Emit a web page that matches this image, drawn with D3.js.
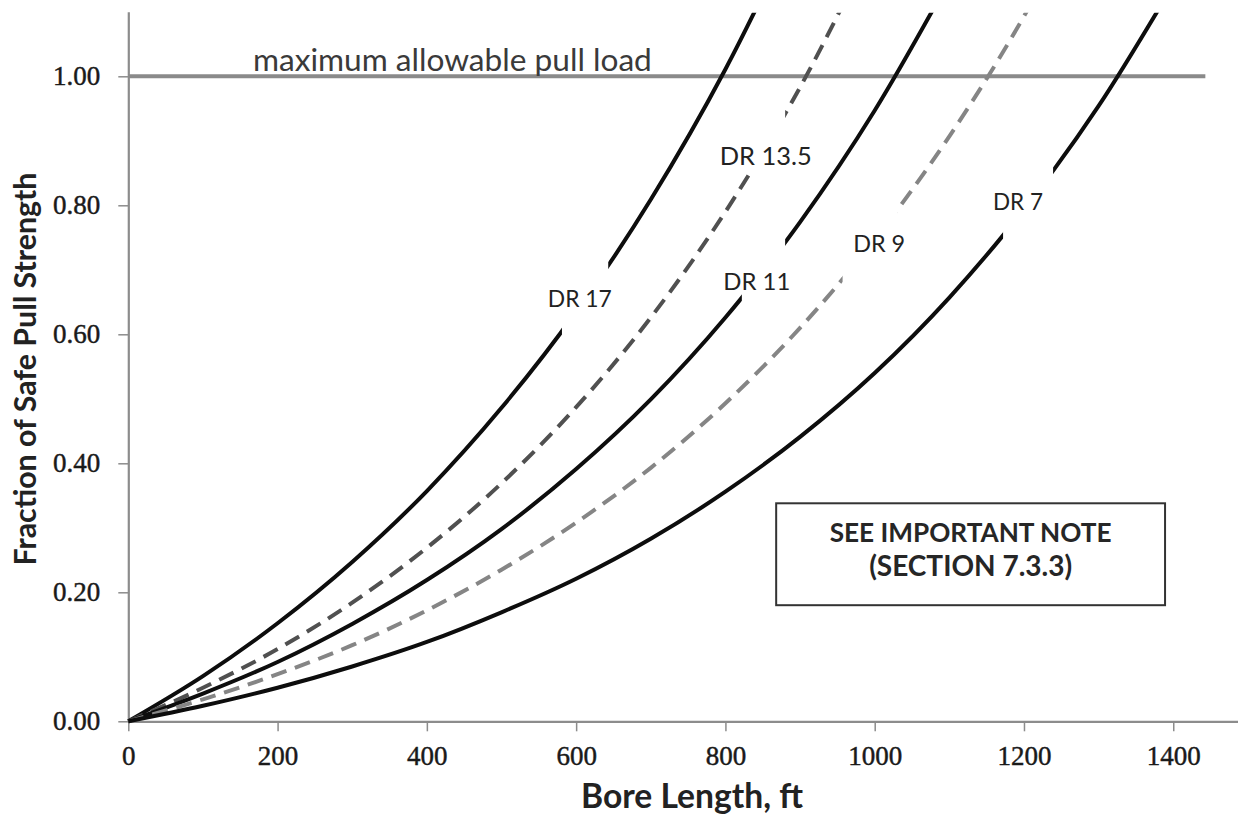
<!DOCTYPE html>
<html>
<head>
<meta charset="utf-8">
<script src="https://cdn.jsdelivr.net/npm/d3@7"></script>
<style>
  html, body { margin: 0; padding: 0; background: #fff; }
  svg { display: block; }
</style>
</head>
<body>
<svg id="chart" width="1238" height="818"></svg>
<script>
// ---------------- data ----------------
const boreLength = [0, 100, 200, 300, 400, 500, 600, 700, 800, 900, 1000, 1100, 1200, 1300, 1400];
const dr17  = [0, 0.070, 0.152, 0.247, 0.357, 0.486, 0.635, 0.809, 1.011, 1.246, null, null, null, null, null];
const dr135 = [0, 0.052, 0.112, 0.184, 0.269, 0.369, 0.487, 0.626, 0.790, 0.983, 1.211, null, null, null, null];
const dr11  = [0, 0.043, 0.092, 0.151, 0.219, 0.298, 0.391, 0.499, 0.626, 0.774, 0.947, 1.149, null, null, null];
const dr9   = [0, 0.034, 0.073, 0.118, 0.172, 0.235, 0.308, 0.393, 0.493, 0.610, 0.747, 0.907, 1.093, 1.312, null];
const dr7   = [0, 0.024, 0.052, 0.085, 0.123, 0.169, 0.221, 0.283, 0.356, 0.441, 0.540, 0.657, 0.794, 0.954, 1.142];
const seriesNames = ["DR 17", "DR 13.5", "DR 11", "DR 9", "DR 7"];
const maxLoadX = [0, 1443];
const maxLoad  = [1.0, 1.0];
const maxLoadLabel = "maximum allowable pull load";
const xTicks = [0, 200, 400, 600, 800, 1000, 1200, 1400];
const yTicks = [0, 0.2, 0.4, 0.6, 0.8, 1.0];
const xTitle = "Bore Length, ft";
const yTitle = "Fraction of Safe Pull Strength";
const noteLines = ["SEE IMPORTANT NOTE", "(SECTION 7.3.3)"];

// ---------------- layout / style config ----------------
const seriesValues = [dr17, dr135, dr11, dr9, dr7];
const seriesStyle = [
  { color: "#0d0d0d", dash: null },
  { color: "#505050", dash: "16,9" },
  { color: "#0d0d0d", dash: null },
  { color: "#858585", dash: "16,9" },
  { color: "#0d0d0d", dash: null }
];
// label anchor (ft, value at baseline), gap in curve (ft), label target width (px)
const labelCfg = [
  { x: 605,  y: 0.642, gap: [581, 643],  w: 64 },
  { x: 854,  y: 0.8625, gap: [833, 880], w: 92 },
  { x: 842,  y: 0.669, gap: [822, 880],  w: 67 },
  { x: 1006, y: 0.728, gap: [957, 1031], w: 52 },
  { x: 1192, y: 0.7927, gap: [1172, 1239], w: 50 }
];

const W = 1238, H = 818;
const x0 = 128.3, pxPerFt = 0.7464;
const yZero = 721.3, pxPerUnit = 645;

const svg = d3.select("#chart");
svg.append("rect").attr("width", W).attr("height", H).attr("fill", "#fff");

const x = d3.scaleLinear().domain([0, 1500]).range([x0, x0 + 1500 * pxPerFt]);
const y = d3.scaleLinear().domain([0, 1.1]).range([yZero, yZero - 1.1 * pxPerUnit]);

function fitWidth(sel, target) {
  const w = sel.node().getComputedTextLength();
  const fs = parseFloat(sel.attr("font-size"));
  sel.attr("font-size", (fs * target / w).toFixed(2));
  return sel;
}

const defs = svg.append("defs");
defs.append("clipPath").attr("id", "plotClip")
  .append("rect")
  .attr("x", x.range()[0] - 5).attr("y", y(1.1) + 1)
  .attr("width", W).attr("height", y(0) - y(1.1) + 5);

// ---------------- axes ----------------
const axisColor = "#8c8c8c";
const gY = svg.append("g").attr("transform", `translate(${x.range()[0]},0)`)
  .call(d3.axisLeft(y).tickValues(yTicks).tickFormat(d3.format(".2f"))
    .tickSize(10).tickSizeOuter(0).tickPadding(18));
const gX = svg.append("g").attr("transform", `translate(0,${y(0)})`)
  .call(d3.axisBottom(x).tickValues(xTicks).tickFormat(d3.format("d"))
    .tickSize(10).tickSizeOuter(0).tickPadding(15));
[gX, gY].forEach(g => {
  g.select(".domain").attr("stroke", axisColor).attr("stroke-width", 2.2);
  g.selectAll(".tick line").attr("stroke", axisColor).attr("stroke-width", 1.5);
  g.selectAll(".tick text")
    .attr("font-family", "'Liberation Serif', 'Times New Roman', serif")
    .attr("font-size", 27).attr("fill", "#1a1a1a")
    .attr("stroke", "#1a1a1a").attr("stroke-width", 0.45);
});

// ---------------- max allowable line ----------------
svg.append("line")
  .attr("x1", x(maxLoadX[0])).attr("x2", x(maxLoadX[1]))
  .attr("y1", y(maxLoad[0])).attr("y2", y(maxLoad[1]))
  .attr("stroke", "#8a8a8a").attr("stroke-width", 4);

fitWidth(svg.append("text")
  .attr("x", x(167)).attr("y", y(maxLoad[0]) - 5)
  .attr("font-family", "Lato, 'Open Sans', sans-serif")
  .attr("font-size", 30).attr("fill", "#3a3a3a")
  .text(maxLoadLabel), 399);

// ---------------- curves ----------------
const line = d3.line()
  .defined(d => d[1] != null)
  .x(d => x(d[0])).y(d => y(d[1]))
  .curve(d3.curveMonotoneX);

const plot = svg.append("g").attr("clip-path", "url(#plotClip)");
seriesValues.forEach((vals, i) => {
  const pts = boreLength.map((b, j) => [b, vals[j]]).filter(d => d[1] != null);
  const cfg = labelCfg[i];
  const cid = "gapClip" + i;
  const cp = defs.append("clipPath").attr("id", cid);
  cp.append("rect").attr("x", 0).attr("y", 0).attr("width", x(cfg.gap[0])).attr("height", H);
  cp.append("rect").attr("x", x(cfg.gap[1])).attr("y", 0).attr("width", W).attr("height", H);
  plot.append("g").attr("clip-path", `url(#${cid})`)
    .append("path")
    .datum(pts)
    .attr("d", line)
    .attr("fill", "none")
    .attr("stroke", seriesStyle[i].color)
    .attr("stroke-width", 4)
    .attr("stroke-dasharray", seriesStyle[i].dash);
});

// ---------------- series labels ----------------
seriesNames.forEach((name, i) => {
  const cfg = labelCfg[i];
  fitWidth(svg.append("text")
    .attr("x", x(cfg.x)).attr("y", y(cfg.y))
    .attr("text-anchor", "middle")
    .attr("font-family", "Lato, 'Open Sans', sans-serif")
    .attr("font-size", 26).attr("fill", "#222")
    .text(name), cfg.w);
});

// ---------------- note box ----------------
svg.append("rect")
  .attr("x", x(868)).attr("y", y(0.338))
  .attr("width", x(1389) - x(868)).attr("height", y(0.180) - y(0.338))
  .attr("fill", "#fff").attr("stroke", "#333").attr("stroke-width", 2);
const noteCx = (x(868) + x(1389)) / 2;
fitWidth(svg.append("text").attr("x", noteCx).attr("y", y(0.2783))
  .attr("text-anchor", "middle").attr("font-family", "Lato, 'Open Sans', sans-serif")
  .attr("font-weight", "bold").attr("font-size", 26).attr("fill", "#262626")
  .text(noteLines[0]), 282);
fitWidth(svg.append("text").attr("x", noteCx).attr("y", y(0.2256))
  .attr("text-anchor", "middle").attr("font-family", "Lato, 'Open Sans', sans-serif")
  .attr("font-weight", "bold").attr("font-size", 26).attr("fill", "#262626")
  .text(noteLines[1]), 203);

// ---------------- axis titles ----------------
fitWidth(svg.append("text")
  .attr("x", 692).attr("y", 808)
  .attr("text-anchor", "middle")
  .attr("font-family", "Lato, 'Open Sans', sans-serif")
  .attr("font-weight", "bold").attr("font-size", 30).attr("fill", "#222")
  .text(xTitle), 222);
fitWidth(svg.append("text")
  .attr("transform", "translate(36,369) rotate(-90)")
  .attr("text-anchor", "middle")
  .attr("font-family", "Lato, 'Open Sans', sans-serif")
  .attr("font-weight", "bold").attr("font-size", 30).attr("fill", "#222")
  .text(yTitle), 393);
</script>
</body>
</html>
